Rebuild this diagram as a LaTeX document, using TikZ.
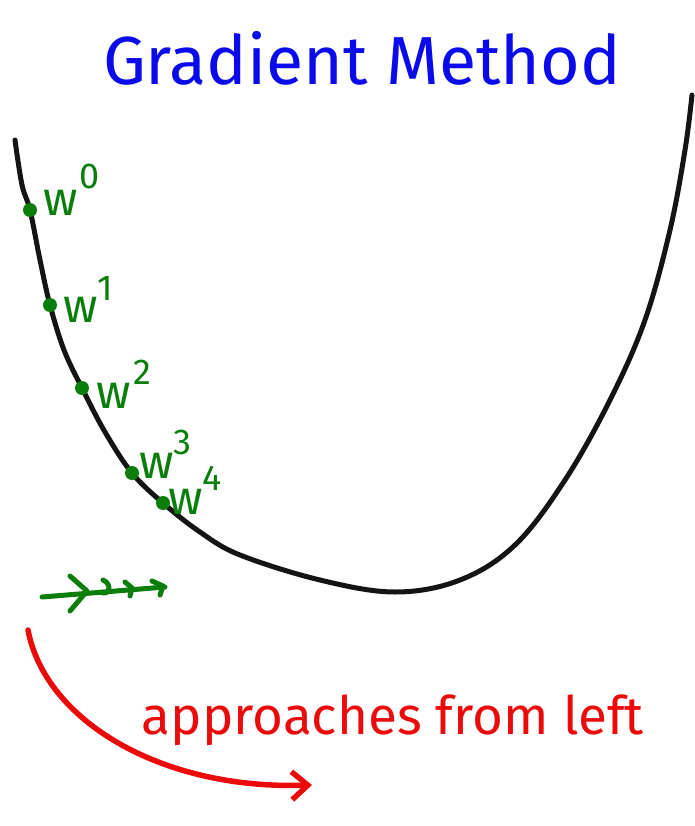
\documentclass[tikz,border=0pt]{standalone}
\usepackage{fontspec}
\setmainfont{Fira Sans}
\usetikzlibrary{arrows.meta}
\definecolor{pen}{RGB}{20,20,20}
\definecolor{gr}{RGB}{10,125,10}
\definecolor{bl}{RGB}{10,10,235}
\definecolor{rd}{RGB}{235,10,10}
\tikzset{
  curve/.style={draw=pen,line width=5pt,line cap=round},
  gdot/.style={circle,fill=gr,inner sep=0pt,minimum size=14pt},
  glabel/.style={text=gr,font=\fontsize{48}{48}\selectfont,inner sep=0pt,anchor=base west},
  garrow/.style={draw=gr,line width=5pt,line cap=round,line join=round},
  rarrow/.style={draw=rd,line width=5.5pt,line cap=round,-{Straight Barb[length=16pt,width=28pt,line width=5.5pt]}},
}
\begin{document}
\begin{tikzpicture}[x=1pt,y=-1pt]
\useasboundingbox (0,0) rectangle (694,826);
\node[text=bl,font=\fontsize{68}{68}\selectfont,inner sep=0pt] (title) at (362,58) {Gradient Method};
\draw[curve] plot[smooth,tension=0.6] coordinates {(15,140) (22,185) (30,210) (40,260) (50,305) (64,350) (82,388) (105,432) (132,473) (163,503) (200,532) (240,555) (320,580) (395,592) (460,580) (515,545) (565,480) (610,400) (645,320) (670,230) (685,150) (692,95)};
\node[gdot] (p0) at (30,210) {};
\node[gdot] (p1) at (50,305) {};
\node[gdot] (p2) at (82,388) {};
\node[gdot] (p3) at (132,473) {};
\node[gdot] (p4) at (163,503) {};
\node[glabel] (l0) at (43,215) {w\kern2pt\raisebox{0.55em}{\fontsize{36}{36}\selectfont 0}};
\node[glabel] (l1) at (63,322) {w\raisebox{0.45em}{\fontsize{36}{36}\selectfont 1}};
\node[glabel] (l2) at (96,408) {w\kern3pt\raisebox{0.5em}{\fontsize{36}{36}\selectfont 2}};
\node[glabel] (l3) at (139,478) {w\raisebox{0.5em}{\fontsize{36}{36}\selectfont 3}};
\node[glabel] (l4) at (168,514) {w\raisebox{0.5em}{\fontsize{36}{36}\selectfont 4}};
\coordinate (a0) at (42,597);
\coordinate (a1) at (165,587);
\draw[garrow] (a0) -- (a1);
\draw[garrow] (70,576) -- (87,591) -- (70,611);
\draw[garrow] (103,580) .. controls (112,584) and (110,594) .. (103,593);
\draw[garrow] (125,582) -- (132,588) -- (130,596);
\draw[garrow] (152,581) -- (163,586) -- (160,595);
\coordinate (r0) at (28,630);
\coordinate (r1) at (312,785);
\draw[rarrow] (r0) .. controls (45,720) and (160,790) .. (r1);
\node[text=rd,font=\fontsize{53}{53}\selectfont,inner sep=0pt] (cap) at (393,720) {approaches from left};
\end{tikzpicture}
\end{document}
